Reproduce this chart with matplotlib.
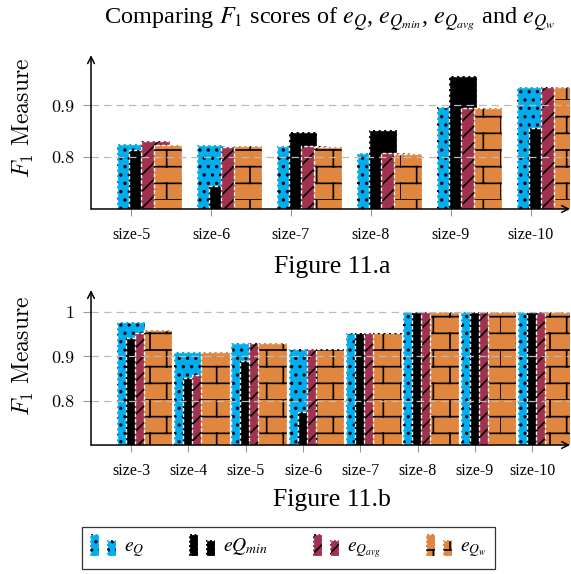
import warnings

import numpy as np
import matplotlib
matplotlib.use("Agg")
import matplotlib.pyplot as plt
import matplotlib.hatch as mhatch
from matplotlib.path import Path
from matplotlib.patches import Patch, Rectangle
from matplotlib.legend_handler import HandlerBase

warnings.filterwarnings("ignore")

plt.rcParams["font.family"] = "serif"
plt.rcParams["font.serif"] = ["Liberation Serif", "DejaVu Serif"]
plt.rcParams["mathtext.fontset"] = "stix"
plt.rcParams["hatch.linewidth"] = 1.2

# ---- data ----
top_labels = ["size-5", "size-6", "size-7", "size-8", "size-9", "size-10"]
top_eq = [0.826, 0.823, 0.821, 0.808, 0.896, 0.935]
top_eqmin = [0.814, 0.745, 0.849, 0.853, 0.956, 0.857]
top_eqavg = [0.831, 0.819, 0.821, 0.808, 0.895, 0.935]
top_eqw = [0.824, 0.822, 0.820, 0.807, 0.895, 0.935]

bot_labels = ["size-3", "size-4", "size-5", "size-6", "size-7", "size-8", "size-9", "size-10"]
bot_eq = [0.977, 0.910, 0.931, 0.916, 0.954, 1.0, 1.0, 1.0]
bot_eqmin = [0.941, 0.851, 0.890, 0.775, 0.954, 1.0, 1.0, 1.0]
bot_eqavg = [0.953, 0.858, 0.931, 0.916, 0.954, 1.0, 1.0, 1.0]
bot_eqw = [0.960, 0.910, 0.930, 0.916, 0.954, 1.0, 1.0, 1.0]

series_names = [r"$e_Q$", r"$eQ_{min}$", r"$e_{Q_{avg}}$", r"$e_{Q_w}$"]
colors = ["#00AEEF", "#000000", "#A0324F", "#E0863E"]
hatches = ["..", None, "//", "b"]


# bricks pattern (pgfplots "bricks") as a custom hatch, char 'b'
class BrickHatch(mhatch.HatchPatternBase):
    rows = 6
    bricks = 3

    def __init__(self, hatch, density):
        self.on = hatch.count("b") > 0
        n_h = self.rows if self.on else 0
        n_v = self.rows * self.bricks if self.on else 0
        self.num_vertices = 2 * (n_h + n_v)

    def set_vertices_and_codes(self, vertices, codes):
        segs = []
        for k in range(self.rows):
            y0 = k / self.rows
            y1 = (k + 1) / self.rows
            segs.append(((0.0, y0), (1.0, y0)))
            shift = 0.0 if k % 2 == 0 else 0.5 / self.bricks
            for j in range(self.bricks):
                xv = j / self.bricks + shift
                segs.append(((xv, y0), (xv, y1)))
        pts = np.array(segs).reshape(-1, 2)
        vertices[:] = pts
        codes[0::2] = Path.MOVETO
        codes[1::2] = Path.LINETO


mhatch._hatch_types.append(BrickHatch)


class TwoBarHandler(HandlerBase):
    def create_artists(self, legend, orig_handle, xdescent, ydescent,
                       width, height, fontsize, trans):
        arts = []
        for x0, h in [(0.0, 1.25), (0.62, 0.92)]:
            xy = (-xdescent + x0 * width, -ydescent - 0.15 * height)
            r = Rectangle(xy, 0.33 * width, h * height,
                          facecolor=orig_handle.get_facecolor(),
                          hatch=orig_handle.get_hatch(),
                          edgecolor="black", linewidth=0, transform=trans)
            e = Rectangle(xy, 0.33 * width, h * height, fill=False,
                          edgecolor="white", linewidth=0.9,
                          linestyle=(0, (2, 1.5)), transform=trans)
            arts += [r, e]
        return arts


def draw_panel(ax, labels, data, width, step, yticks, ytick_labels, ylim, xlim):
    x = np.arange(len(labels))
    for i, vals in enumerate(data):
        xs = x + i * step
        ax.bar(xs, vals, width=width, color=colors[i], hatch=hatches[i],
               edgecolor="black", linewidth=0, align="center", zorder=1 + i * 0.1)
        ax.bar(xs, vals, width=width, fill=False, edgecolor="white",
               linewidth=1.0, linestyle=(0, (2.5, 1.5)), zorder=1.05 + i * 0.1)

    ax.set_xlim(*xlim)
    ax.set_ylim(*ylim)
    ax.set_xticks(x, labels, fontsize=11.5)
    ax.set_yticks(yticks, ytick_labels, fontsize=13, fontfamily="cmr10")
    ax.tick_params(axis="x", direction="out", length=5, color="#999999", pad=8)
    ax.tick_params(axis="y", direction="out", length=6, color="#999999", pad=6)

    ax.set_axisbelow(False)
    ax.yaxis.grid(True, color="#BBBBBB", linestyle=(0, (6, 4)), linewidth=0.9)
    for s in ax.spines.values():
        s.set_visible(False)

    # pgfplots style axis lines with arrow heads
    arrow = dict(arrowstyle="->", lw=1.1, color="black", shrinkA=0, shrinkB=0,
                 mutation_scale=12)
    ax.annotate("", xy=(0, 1), xytext=(0, 0), xycoords="axes fraction",
                arrowprops=arrow, zorder=5, annotation_clip=False)
    ax.annotate("", xy=(1, 0), xytext=(0, 0), xycoords="axes fraction",
                arrowprops=arrow, zorder=5, annotation_clip=False)

    ax.set_ylabel(r"$F_1$ Measure", fontsize=17, fontfamily="cmr10",
                  math_fontfamily="cm")


fig = plt.figure(figsize=(5.71, 5.74), dpi=100)

ax1 = fig.add_axes([0.1594, 0.6359, 0.839, 0.268])
draw_panel(ax1, top_labels, [top_eq, top_eqmin, top_eqavg, top_eqw],
           width=0.355, step=0.154, yticks=[0.8, 0.9],
           ytick_labels=["0.8", "0.9"], ylim=(0.7, 0.997), xlim=(-0.5, 5.49))
ax1.yaxis.set_label_coords(-0.115, 0.59)

ax2 = fig.add_axes([0.1594, 0.2247, 0.839, 0.270])
draw_panel(ax2, bot_labels, [bot_eq, bot_eqmin, bot_eqavg, bot_eqw],
           width=0.5, step=0.157, yticks=[0.8, 0.9, 1.0],
           ytick_labels=["0.8", "0.9", "1"], ylim=(0.7, 1.05), xlim=(-0.698, 7.66))
ax2.yaxis.set_label_coords(-0.115, 0.577)

fig.text(0.578, 1 - 19 / 574,
         r"Comparing $F_1$ scores of $e_Q$, $e_{Q_{min}}$, $e_{Q_{avg}}$ and $e_{Q_w}$",
         ha="center", va="center", fontsize=17.5)
fig.text(0.581, 1 - 267 / 574, "Figure 11.a", ha="center", va="center", fontsize=18.5)
fig.text(0.581, 1 - 500 / 574, "Figure 11.b", ha="center", va="center", fontsize=18.5)

handles = [Patch(facecolor=c, hatch=h) for c, h in zip(colors, hatches)]
leg = fig.legend(handles, series_names, loc="center", bbox_to_anchor=(0.505, 0.0453),
                 ncol=4, fontsize=14, frameon=True, fancybox=False,
                 edgecolor="black", handler_map={Patch: TwoBarHandler()},
                 handlelength=1.4, handleheight=1.0, columnspacing=2.3,
                 handletextpad=0.35, borderpad=0.45)
leg.get_frame().set_linewidth(0.9)

fig.savefig("out.png", dpi=100)
